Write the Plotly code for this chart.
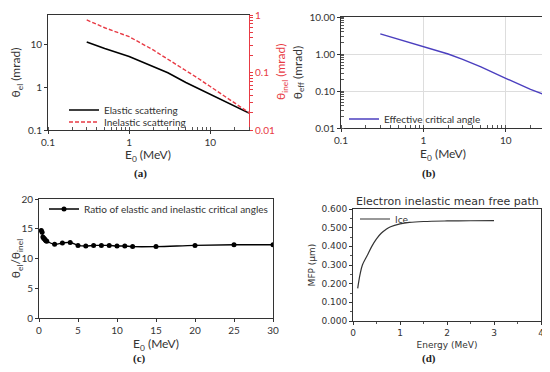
import plotly.graph_objects as go

# ---------------- data ----------------
# (a) critical angles vs energy
e_a = [0.3, 0.5, 1, 2, 3, 5, 10, 20, 30]
theta_el = [11.7, 8.2, 5.3, 3.1, 2.2, 1.3, 0.69, 0.36, 0.25]
e_inel = [0.3, 0.5, 1, 1.5, 2, 2.5, 3, 4, 4.5, 5, 7, 10, 20, 30]
theta_inel = [0.82, 0.6, 0.42, 0.31, 0.245, 0.2, 0.17, 0.13, 0.118, 0.11, 0.08, 0.057, 0.029, 0.020]

# (b) effective critical angle
e_b = [0.3, 0.5, 1, 2, 3, 5, 10, 20, 30]
theta_eff = [3.5, 2.5, 1.6, 1.0, 0.72, 0.45, 0.22, 0.11, 0.078]

# (c) ratio
e_c = [0.3, 0.4, 0.5, 0.6, 0.7, 0.8, 0.9, 1, 2, 3, 4, 5, 6, 7, 8, 9, 10, 11, 12, 15, 20, 25, 30]
ratio = [14.7, 14.4, 13.6, 13.4, 13.3, 13.1, 13.0, 12.9, 12.4, 12.6, 12.7, 12.2, 12.1, 12.2,
         12.2, 12.2, 12.1, 12.1, 12.0, 12.0, 12.2, 12.3, 12.3]

# (d) inelastic mean free path in ice
e_d = [0.1, 0.15, 0.2, 0.3, 0.4, 0.5, 0.6, 0.7, 0.8, 1.0, 1.2, 1.5, 2.0, 2.5, 3.0]
mfp = [0.175, 0.25, 0.3, 0.35, 0.4, 0.44, 0.47, 0.49, 0.505, 0.52, 0.528, 0.533, 0.536, 0.537, 0.538]

# page body has an 8px margin: the figure is drawn 8px in from the top-left corner
OFF = 8
W, H = 550 - OFF, 372 - OFF
RED = "#E83A44"
BLUE = "#4B3FBF"
FONT = "Lato"

def px(x):
    return (x - OFF) / W

def py(y):
    return 1 - (y - OFF) / H

def dx(a, b):
    return [px(a), px(b)]

def dy(top, bottom):
    return [py(bottom), py(top)]

fig = go.Figure()

fig.add_trace(go.Scatter(x=e_a, y=theta_el, mode="lines", name="Elastic scattering",
                         line=dict(color="black", width=1.6), xaxis="x", yaxis="y", legend="legend"))
fig.add_trace(go.Scatter(x=e_inel, y=theta_inel, mode="lines", name="Inelastic scattering",
                         line=dict(color=RED, width=1.4, dash="4px,2px"), xaxis="x", yaxis="y2", legend="legend5"))
fig.add_trace(go.Scatter(x=e_b, y=theta_eff, mode="lines", name="Effective critical angle",
                         line=dict(color=BLUE, width=1.4), xaxis="x3", yaxis="y3", legend="legend2"))
fig.add_trace(go.Scatter(x=e_c, y=ratio, mode="lines+markers", name="Ratio of elastic and inelastic critical angles",
                         line=dict(color="black", width=1.4, shape="spline"), marker=dict(size=5, color="black"),
                         xaxis="x4", yaxis="y4", legend="legend3"))
fig.add_trace(go.Scatter(x=e_d, y=mfp, mode="lines", name="Ice",
                         line=dict(color="#333333", width=1.2, shape="spline"), xaxis="x5", yaxis="y5", legend="legend4"))

tf = dict(family=FONT, size=10, color="#333333")
common = dict(showline=True, linecolor="#333333", linewidth=1, mirror=True, showgrid=False, automargin=False,
              zeroline=False, tickfont=tf, ticks="outside", ticklen=3, tickcolor="#333333")

minor_log = dict(ticks="inside", ticklen=3, tickcolor="#555555", dtick="D1", showgrid=False)

def leg(x, y, fam=FONT, size=10):
    return dict(x=px(x), y=py(y), xanchor="left", yanchor="middle", bgcolor="rgba(0,0,0,0)",
                font=dict(family=fam, size=size, color="#333333"), itemwidth=30)

fig.update_layout(
    width=W, height=H, margin=dict(l=0, r=0, t=0, b=0),
    paper_bgcolor="white", plot_bgcolor="white",
    font=dict(family=FONT, size=11, color="#333333"),
    # (a)
    xaxis=dict(domain=dx(48, 249), anchor="y", type="log", range=[-1, 1.477],
               tickvals=[0.1, 1, 10], ticktext=["0.1", "1", "10"], minor=minor_log, **common),
    yaxis=dict(domain=dy(15, 130), anchor="x", type="log", range=[-1, 1.699],
               tickvals=[0.1, 1, 10], ticktext=["0.1", "1", "10"],
               title=dict(text="θ<sub>el</sub> (mrad)", font=dict(family=FONT, size=12), standoff=4), **common),
    yaxis2=dict(overlaying="y", anchor="x", side="right", type="log", range=[-2, 0], automargin=False,
                tickvals=[0.01, 0.1, 1], ticktext=["0.01", "0.1", "1"],
                showline=True, linecolor=RED, linewidth=1, showgrid=False, zeroline=False,
                tickfont=dict(family=FONT, size=10, color=RED), ticks="outside", ticklen=3, tickcolor=RED,
                minor=dict(ticks="outside", ticklen=3, tickcolor=RED, dtick="D1", showgrid=False)),
    # (b)
    xaxis3=dict(domain=dx(341, 545), anchor="y3", type="log", range=[-1, 1.477],
                tickvals=[0.1, 1, 10], ticktext=["0.1", "1", "10"], minor=minor_log,
                title=dict(text="E<sub>0</sub> (MeV)", font=dict(family=FONT, size=12), standoff=2),
                **{**common, "showgrid": True, "gridcolor": "#DDDDDD"}),
    yaxis3=dict(domain=dy(17, 128), anchor="x3", type="log", range=[-2, 1],
                tickvals=[0.01, 0.1, 1, 10], ticktext=["0.01", "0.10", "1.00", "10.00"], minor=minor_log,
                title=dict(text="θ<sub>eff</sub> (mrad)", font=dict(family=FONT, size=12), standoff=4),
                **{**common, "showgrid": True, "gridcolor": "#DDDDDD"}),
    # (c)
    xaxis4=dict(domain=dx(39, 273), anchor="y4", range=[0, 30], tickvals=[0, 5, 10, 15, 20, 25, 30],
                title=dict(text="E<sub>0</sub> (MeV)", font=dict(family=FONT, size=12), standoff=4), **common),
    yaxis4=dict(domain=dy(199, 318), anchor="x4", range=[0, 20], tickvals=[0, 5, 10, 15, 20],
                title=dict(text="θ<sub>el</sub>/θ<sub>inel</sub>", font=dict(family=FONT, size=12), standoff=6), **common),
    # (d)
    xaxis5=dict(domain=dx(353, 541), anchor="y5", range=[0, 4], tickvals=[0, 1, 2, 3, 4],
                minor=dict(ticks="outside", ticklen=2, dtick=0.5, tickcolor="#555555"),
                title=dict(text="Energy (MeV)", font=dict(family="DejaVu Sans", size=9), standoff=4),
                **{**common, "tickfont": dict(family="DejaVu Sans", size=9, color="#333333")}),
    yaxis5=dict(domain=dy(209, 321), anchor="x5", range=[0, 0.6], tickvals=[0, 0.1, 0.2, 0.3, 0.4, 0.5, 0.6],
                tickformat=".3f", minor=dict(ticks="outside", ticklen=2, dtick=0.05, tickcolor="#555555"),
                title=dict(text="MFP (μm)", font=dict(family="DejaVu Sans", size=9), standoff=4),
                **{**common, "tickfont": dict(family="DejaVu Sans", size=9, color="#333333")}),
    legend=leg(64, 110),
    legend5=leg(64, 122),
    legend2=leg(344, 119),
    legend3=leg(44, 209),
    legend4=leg(355, 219, "DejaVu Sans", 9),
    showlegend=True,
)

# x-axis title of panel (a) and right-axis title, placed as in the reference
fig.add_annotation(text="E<sub>0</sub> (MeV)", x=px(148), y=py(155), xref="paper", yref="paper",
                   showarrow=False, font=dict(family=FONT, size=12, color="#333333"),
                   xanchor="center", yanchor="middle")
fig.add_annotation(text="θ<sub>inel</sub> (mrad)", x=px(281), y=py(72), xref="paper", yref="paper",
                   showarrow=False, textangle=-90, font=dict(family=FONT, size=12, color=RED),
                   xanchor="center", yanchor="middle")

cap_font = dict(family="Liberation Serif", size=11, color="#222222")
for txt, x, y in [("<b>(a)</b>", 140, 174), ("<b>(b)</b>", 429, 174), ("<b>(c)</b>", 139, 358), ("<b>(d)</b>", 429, 358)]:
    fig.add_annotation(text=txt, x=px(x), y=py(y), xref="paper", yref="paper",
                       showarrow=False, font=cap_font, xanchor="center", yanchor="middle")

fig.add_annotation(text="Electron inelastic mean free path", x=px(447), y=py(201), xref="paper", yref="paper",
                   showarrow=False, font=dict(family="DejaVu Sans", size=11, color="#333333"),
                   xanchor="center", yanchor="middle")

fig.write_html("out.html", config={"displayModeBar": False})
